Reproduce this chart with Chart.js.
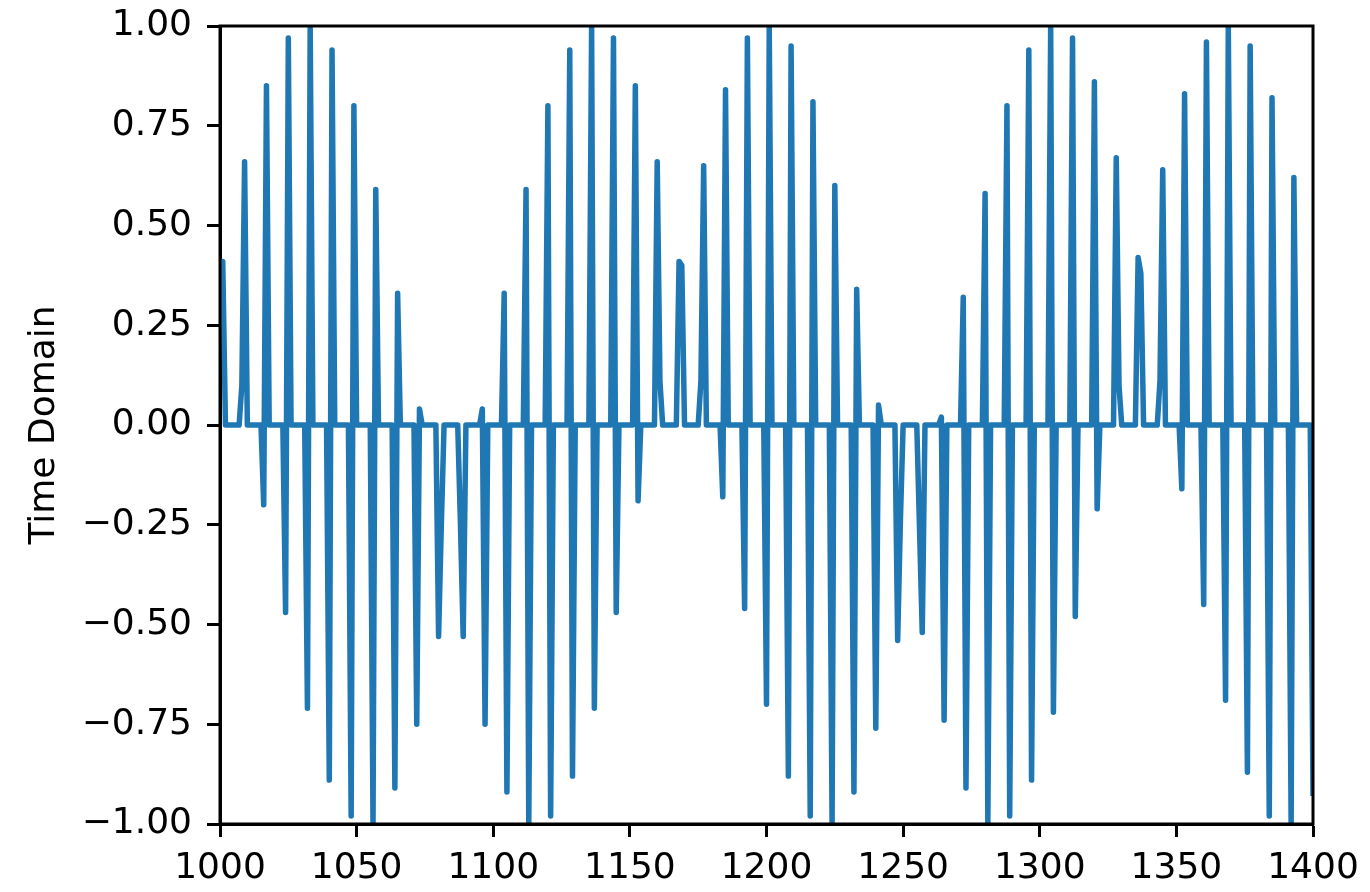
<!DOCTYPE html>
<html>
<head>
<meta charset="utf-8">
<script src="https://cdn.jsdelivr.net/npm/chart.js@4/dist/chart.umd.min.js"></script>
<style>
    body { margin: 0; background: #fff; }
    #wrap { width: 1370px; height: 892px; }
</style>
</head>
<body>
<div id="wrap"><canvas id="grafico" width="1370" height="892"></canvas></div>
<script>
// sample index range shown on the x axis
var xMin = 1000;
var xMax = 1400;
var xTicks = [1000, 1050, 1100, 1150, 1200, 1250, 1300, 1350, 1400];
var yTicks = [-1, -0.75, -0.5, -0.25, 0, 0.25, 0.5, 0.75, 1];

// samples that are not zero, every other sample is 0
var spikeN = [1000, 1001, 1008, 1009, 1016, 1017, 1024, 1025, 1032, 1033,
              1040, 1041, 1048, 1049, 1056, 1057, 1064, 1065, 1072, 1073,
              1080, 1081, 1088, 1089, 1096, 1097, 1104, 1105, 1112, 1113,
              1120, 1121, 1128, 1129, 1136, 1137, 1144, 1145, 1152, 1153,
              1160, 1161, 1168, 1169, 1176, 1177, 1184, 1185, 1192, 1193,
              1200, 1201, 1208, 1209, 1216, 1217, 1224, 1225, 1232, 1233,
              1240, 1241, 1248, 1249, 1256, 1257, 1264, 1265, 1272, 1273,
              1280, 1281, 1288, 1289, 1296, 1297, 1304, 1305, 1312, 1313,
              1320, 1321, 1328, 1329, 1336, 1337, 1344, 1345, 1352, 1353,
              1360, 1361, 1368, 1369, 1376, 1377, 1384, 1385, 1392, 1393,
              1400];
var spikeV = [0.41, 0.41, 0.10, 0.66, -0.20, 0.85, -0.47, 0.97, -0.71, 1.00,
              -0.89, 0.94, -0.98, 0.80, -1.00, 0.59, -0.91, 0.33, -0.75, 0.04,
              -0.53, -0.25, -0.25, -0.53, 0.04, -0.75, 0.33, -0.92, 0.59, -1.00,
              0.80, -0.98, 0.94, -0.88, 1.00, -0.71, 0.97, -0.47, 0.85, -0.19,
              0.66, 0.11, 0.41, 0.40, 0.11, 0.65, -0.18, 0.84, -0.46, 0.97,
              -0.70, 1.00, -0.88, 0.95, -0.98, 0.81, -1.00, 0.60, -0.92, 0.34,
              -0.76, 0.05, -0.54, -0.24, -0.26, -0.52, 0.02, -0.74, 0.32, -0.91,
              0.58, -1.00, 0.80, -0.98, 0.94, -0.89, 1.00, -0.72, 0.97, -0.48,
              0.86, -0.21, 0.67, 0.10, 0.42, 0.38, 0.11, 0.64, -0.16, 0.83,
              -0.45, 0.96, -0.69, 1.00, -0.87, 0.95, -0.98, 0.82, -1.00, 0.62,
              -0.93];

var yTitle = 'Time Domain';

// full series: one point per sample index
var punti = [];
for (var n = xMin; n <= xMax; n++) {
    var i = spikeN.indexOf(n);
    punti.push({ x: n, y: i >= 0 ? spikeV[i] : 0 });
}

var font = { family: 'DejaVu Sans', size: 36 };

// matplotlib style box round the plot
var boxPlugin = {
    id: 'box',
    afterDatasetsDraw: function (chart) {
        var a = chart.chartArea;
        var ctx = chart.ctx;
        ctx.save();
        ctx.strokeStyle = '#000';
        ctx.lineWidth = 3;
        ctx.strokeRect(a.left, a.top, a.right - a.left, a.bottom - a.top);
        ctx.restore();
    }
};

function fmtY(v) {
    if (Math.abs(v) < 1e-9) return '0.00';
    var s = Math.abs(v).toFixed(2);
    return v < 0 ? '\u2212' + s : s;
}

var ctx = document.getElementById('grafico');
var chart = new Chart(ctx, {
    type: 'line',
    data: {
        datasets: [{
            data: punti,
            borderColor: '#1f77b4',
            borderWidth: 5.5,
            pointRadius: 0,
            tension: 0,
            borderJoinStyle: 'round',
            clip: 0
        }]
    },
    options: {
        responsive: false,
        animation: false,
        layout: { padding: { top: 26, right: 57, left: 0, bottom: 0 } },
        plugins: {
            legend: { display: false },
            tooltip: { enabled: false }
        },
        scales: {
            x: {
                type: 'linear',
                min: xMin,
                max: xMax,
                afterFit: function (s) {
                    s.height = 68;
                    s.paddingLeft = 0;
                    s.paddingRight = 0;
                },
                afterBuildTicks: function (s) {
                    s.ticks = xTicks.map(function (v) { return { value: v }; });
                },
                grid: { drawOnChartArea: false, drawTicks: true, tickLength: 13, tickColor: '#000', tickWidth: 3 },
                border: { display: true, color: '#000', width: 3 },
                ticks: {
                    color: '#000',
                    font: font,
                    padding: 10,
                    maxRotation: 0,
                    autoSkip: false,
                    callback: function (v) { return String(v); }
                }
            },
            y: {
                min: -1,
                max: 1,
                afterFit: function (s) {
                    s.width = 220;
                    s.paddingTop = 0;
                    s.paddingBottom = 0;
                },
                afterBuildTicks: function (s) {
                    s.ticks = yTicks.map(function (v) { return { value: v }; });
                },
                grid: { drawOnChartArea: false, drawTicks: true, tickLength: 13, tickColor: '#000', tickWidth: 3 },
                border: { display: true, color: '#000', width: 3 },
                ticks: {
                    color: '#000',
                    font: font,
                    padding: 15,
                    autoSkip: false,
                    callback: function (v) { return fmtY(v); }
                },
                title: {
                    display: true,
                    text: yTitle,
                    color: '#000',
                    font: font,
                    padding: { top: 23, bottom: 0 }
                }
            }
        }
    },
    plugins: [boxPlugin]
});
</script>
</body>
</html>
